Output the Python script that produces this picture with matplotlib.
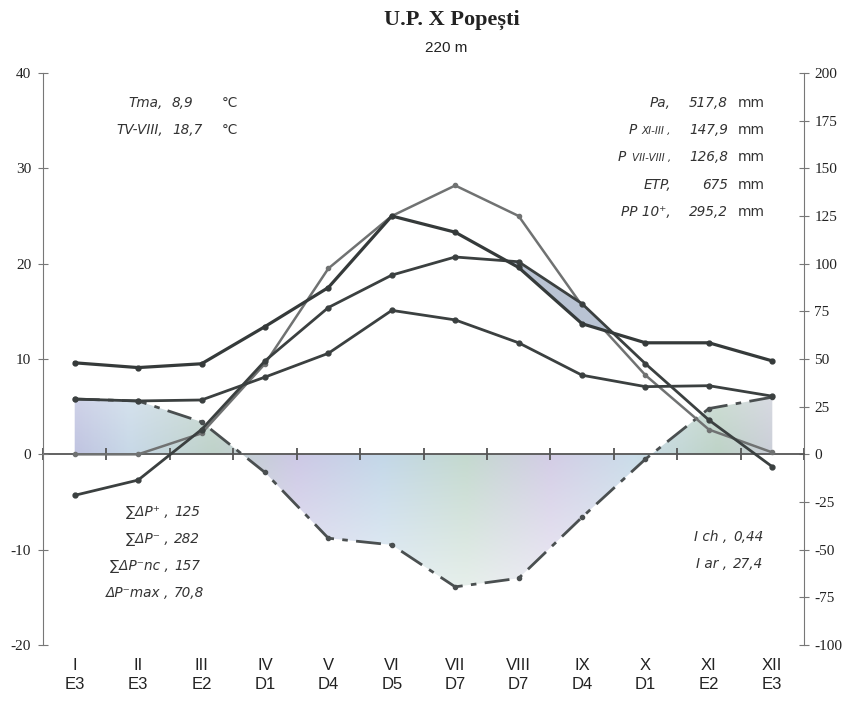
import numpy as np
import matplotlib
matplotlib.use("Agg")
import matplotlib.pyplot as plt
from matplotlib.colors import LinearSegmentedColormap

plt.rcParams["axes.unicode_minus"] = False

months = ["I", "II", "III", "IV", "V", "VI", "VII", "VIII", "IX", "X", "XI", "XII"]
classes = ["E3", "E3", "E2", "D1", "D4", "D5", "D7", "D7", "D4", "D1", "E2", "E3"]

# temperature (degC, left axis)
temp = [-4.3, -2.7, 2.6, 9.8, 15.4, 18.8, 20.7, 20.2, 15.8, 9.5, 3.6, -1.3]
# precipitation at 1:3 scale
prec_t = [9.6, 9.1, 9.5, 13.4, 17.5, 25.0, 23.3, 19.6, 13.7, 11.7, 11.7, 9.8]
# precipitation, ETP and balance (mm, right axis)
prec = [29, 28, 28.5, 40.5, 53, 75.5, 70.5, 58.5, 41.5, 35.5, 36, 30.5]
etp = [0, 0, 11, 47.5, 97.5, 125, 141, 125, 78, 41.5, 13, 1]
balance = [29, 28, 17, -9.5, -44, -47.5, -69.5, -65, -33, -2.5, 24, 30]

left_info = [("Tma,", "8,9", "°C"), ("TV-VIII,", "18,7", "°C")]
right_info = [("Pa,", "517,8"), ("P", "147,9", "XI-III ,"), ("P", "126,8", "VII-VIII ,"),
              ("ETP,", "675"), ("PP 10⁺,", "295,2")]
deficit_info = [("∑ΔP⁺ ,", "125"), ("∑ΔP⁻ ,", "282"), ("∑ΔP⁻nc ,", "157"), ("ΔP⁻max ,", "70,8")]
index_info = [("I ch ,", "0,44"), ("I ar ,", "27,4")]

x = np.arange(len(months))
dark = "#3b4040"
serif = ["Liberation Serif", "DejaVu Serif"]

fig = plt.figure(figsize=(8.47, 7.02), dpi=100)
ax = fig.add_axes([43 / 847, 57 / 702, 761 / 847, 572 / 702])
ax2 = ax.twinx()
ax.set_zorder(ax2.get_zorder() + 1)
ax.patch.set_visible(False)

# gradient-filled water balance area
pal = LinearSegmentedColormap.from_list(
    "pastel", ["#b2aed8", "#c0d3e4", "#b6ccc2", "#c6c1e2", "#bbd2e5", "#bcd4c8",
               "#cdc6e2", "#c3d8e6", "#b5cdbf", "#ccc4de"])
xs = np.linspace(-0.5, 11.5, 600)
ys = np.linspace(-100, 200, 300)
X, Y = np.meshgrid(xs, ys)
rgb = pal((X + 0.5) / 12.0)[..., :3]
light = 0.12 + np.clip(np.abs(Y) / 75.0, 0, 1)[..., None] * 0.55
rgb = rgb * (1 - light) + light
poly = ax2.fill_between(x, balance, 0, facecolor="none", edgecolor="none")
im = ax2.imshow(rgb, extent=(-0.5, 11.5, -100, 200), origin="lower",
                aspect="auto", zorder=1, interpolation="bilinear")
im.set_clip_path(poly.get_paths()[0], transform=ax2.transData)

ax2.plot(x, balance, color="#4a4f50", lw=2, ls=(0, (9, 3, 2, 3)),
         marker="o", ms=3, zorder=3)
ax2.plot(x, etp, color="#707272", lw=1.8, marker="o", ms=3, zorder=4)
ax2.plot(x, prec, color=dark, lw=2, marker="o", ms=3.5, zorder=4)

# dry period lens between temperature and scaled precipitation
ax.fill_between(x, temp, prec_t, where=np.array(temp) > np.array(prec_t),
                interpolate=True, facecolor="#b9c3d3", edgecolor="none", zorder=1)
ax.plot(x, temp, color=dark, lw=2, marker="o", ms=3.5, zorder=3)
ax.plot(x, prec_t, color="#353a3a", lw=2.3, marker="o", ms=3.5, zorder=3)

ax.set_xlim(-0.5, 11.5)
ax.set_ylim(-20, 40)
ax2.set_ylim(-100, 200)
ax.set_yticks(np.arange(-20, 41, 10))
ax2.set_yticks(np.arange(-100, 201, 25))

for s in ["top", "right", "bottom"]:
    ax.spines[s].set_visible(False)
for s in ["top", "left"]:
    ax2.spines[s].set_visible(False)
ax.spines["left"].set_color("#777777")
ax2.spines["right"].set_color("#777777")

# zero category axis with tick marks between months
ax2.xaxis.set_visible(True)
ax2.spines["bottom"].set_position(("data", 0))
ax2.spines["bottom"].set_color("#555555")
ax2.spines["bottom"].set_linewidth(1.3)
ax2.set_xticks(np.arange(-0.5, 12, 1.0), minor=True)
ax2.tick_params(axis="x", which="major", length=0, labelbottom=False)
ax2.tick_params(axis="x", which="minor", length=9, direction="inout",
                color="#555555", width=1.3)

ax.set_xticks(x)
ax.set_xticklabels([f"{m}\n{c}" for m, c in zip(months, classes)],
                   family=["Liberation Sans", "DejaVu Sans"], fontsize=12,
                   color="#222222", linespacing=1.35)
ax.tick_params(axis="x", which="both", length=0, pad=9)
ax.tick_params(axis="y", direction="inout", length=7, color="#777777",
               labelsize=11, labelcolor="#222222", pad=5)
ax2.tick_params(axis="y", direction="inout", length=7, color="#777777",
                labelsize=11, labelcolor="#222222", pad=4)
for lab in ax.get_yticklabels() + ax2.get_yticklabels():
    lab.set_family(serif)

fig.text(452 / 847, 1 - 20 / 702, "U.P. X Popești", ha="center", va="center",
         fontsize=16, fontweight="bold", family=serif, color="#222222")
fig.text(446 / 847, 1 - 48 / 702, "220 m", ha="center", va="center",
         fontsize=11, family=["Liberation Sans", "DejaVu Sans"], color="#222222")

kw = dict(fontsize=9.8, style="italic", color="#333333", va="center",
          family=["DejaVu Sans"])


def px(xp, yp):
    return xp / 847, 1 - yp / 702


for i, (lab, val, unit) in enumerate(left_info):
    yp = 103 + 27 * i
    fig.text(*px(163, yp), lab, ha="right", **kw)
    fig.text(*px(172, yp), val, ha="left", **kw)
    fig.text(*px(222, yp), unit, ha="left", **{**kw, "style": "normal"})

for i, row in enumerate(right_info):
    yp = 103 + 27.2 * i
    if len(row) == 3:
        fig.text(*px(671, yp + 1), row[2], ha="right", **{**kw, "fontsize": 7.5})
        pos = 629 if row[2].startswith("XI") else 618
        fig.text(*px(pos, yp), row[0], ha="left", **kw)
    else:
        fig.text(*px(671, yp), row[0], ha="right", **kw)
    fig.text(*px(728, yp), row[1], ha="right", **kw)
    fig.text(*px(738, yp), "mm", ha="left", **{**kw, "style": "normal"})

for i, (lab, val) in enumerate(deficit_info):
    yp = 512 + 27 * i
    fig.text(*px(169, yp), lab, ha="right", **kw)
    fig.text(*px(174, yp), val, ha="left", **kw)

for i, (lab, val) in enumerate(index_info):
    yp = 537 + 27 * i
    fig.text(*px(727, yp), lab, ha="right", **kw)
    fig.text(*px(733, yp), val, ha="left", **kw)

fig.savefig("out.png", dpi=100)
